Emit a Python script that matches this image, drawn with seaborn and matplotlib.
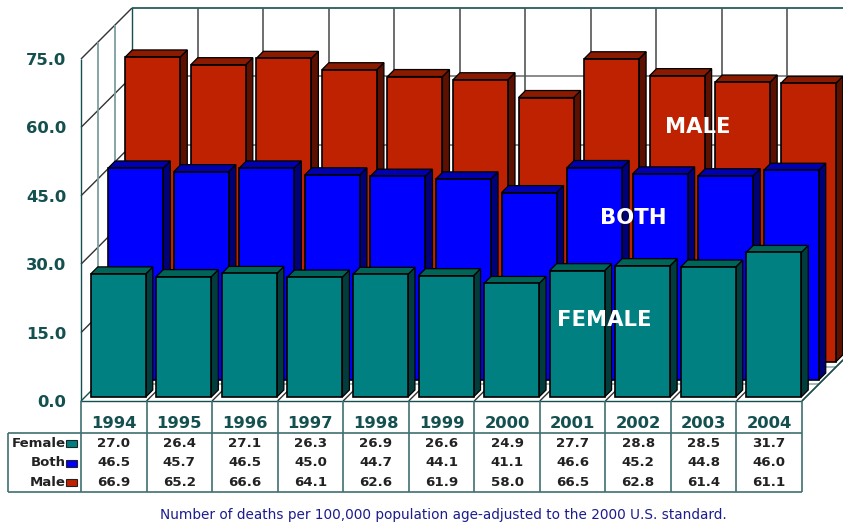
import matplotlib
matplotlib.use("Agg")
import matplotlib.pyplot as plt
import seaborn as sns
from matplotlib.patches import Polygon, Rectangle

years = ["1994", "1995", "1996", "1997", "1998", "1999", "2000", "2001", "2002", "2003", "2004"]
female = [27.0, 26.4, 27.1, 26.3, 26.9, 26.6, 24.9, 27.7, 28.8, 28.5, 31.7]
both = [46.5, 45.7, 46.5, 45.0, 44.7, 44.1, 41.1, 46.6, 45.2, 44.8, 46.0]
male = [66.9, 65.2, 66.6, 64.1, 62.6, 61.9, 58.0, 66.5, 62.8, 61.4, 61.1]
y_ticks = [0, 15, 30, 45, 60, 75]
note = "Number of deaths per 100,000 population age-adjusted to the 2000 U.S. standard."

# plot area in pixels
W, H = 843, 525
LEFT, RIGHT, BASE, TOP = 81, 802, 401, 59
STEP = (RIGHT - LEFT) / len(years)
DEPTH = 51
TEAL = "#14504f"

sns.set_style("white")
plt.rcParams["font.family"] = ["DejaVu Sans"]

fig = plt.figure(figsize=(W / 100, H / 100), dpi=100)

# background axes in pixel coordinates, for the walls and the table
bg = fig.add_axes([0, 0, 1, 1], zorder=0)
bg.set_xlim(0, W)
bg.set_ylim(H, 0)
bg.axis("off")

ax = fig.add_axes([LEFT / W, 1 - BASE / H, (RIGHT - LEFT) / W, (BASE - TOP) / H], zorder=1)
ax.patch.set_alpha(0)


def line(xs, ys, color=TEAL, lw=1.0):
    bg.plot(xs, ys, color=color, lw=lw, solid_capstyle="butt", clip_on=True)


# back wall and left wall
px_per_unit = (BASE - TOP) / 75
for t in y_ticks:
    yy = BASE - t * px_per_unit
    line([LEFT, LEFT + DEPTH], [yy, yy - DEPTH], "#333333" if t else TEAL)
    line([LEFT + DEPTH, W], [yy - DEPTH, yy - DEPTH], "#777777" if 0 < t < 75 else TEAL, 1.2)
for d in (17, 34):
    line([LEFT + d, LEFT + d], [TOP - d, BASE - d], "#7c9f9f", 1.3)
    line([LEFT + d, RIGHT + d], [BASE - d, BASE - d], "#9db5b5", 1.3)
line([LEFT, LEFT], [TOP, BASE])
line([LEFT + DEPTH, LEFT + DEPTH], [TOP - DEPTH, BASE - DEPTH])
for i in range(1, len(years) + 1):
    xx = LEFT + i * STEP
    line([xx + DEPTH, xx + DEPTH], [TOP - DEPTH, BASE - DEPTH], "#555555", 1.2)
    line([xx, xx + DEPTH], [BASE, BASE - DEPTH], "#333333")
line([LEFT, RIGHT], [BASE, BASE])
line([RIGHT, W], [BASE, BASE - (W - RIGHT)])

# bars: offsets are the pixel shift of each row into the depth of the chart
series = [
    (male, "#bf2200", "#8a1a00", "#5c1000", 39, 39, 10),
    (both, "#0000ff", "#0000b0", "#000078", 22, 21, 20),
    (female, "#008080", "#006558", "#033c3c", 4.5, 4, 30),
]
bar_w = 55
side = 7
for values, front, top_c, side_c, dx, dy, z in series:
    sns.barplot(x=years, y=values, color=front, saturation=1, width=bar_w / STEP,
                edgecolor="black", linewidth=1.2, ax=ax)
    for bar in ax.containers[-1]:
        bar.set_x(bar.get_x() + dx / STEP)
        bar.set_y(dy / px_per_unit)
        bar.set_zorder(z + 1)
        bar.set_clip_on(False)
        x0 = bar.get_x()
        x1 = x0 + bar.get_width()
        y0 = bar.get_y()
        y1 = y0 + bar.get_height()
        sx = side / STEP
        sy = side / px_per_unit
        ax.add_patch(Polygon([(x1, y0), (x1 + sx, y0 + sy), (x1 + sx, y1 + sy), (x1, y1)],
                             facecolor=side_c, edgecolor="black", lw=0.9, zorder=z, clip_on=False))
        ax.add_patch(Polygon([(x0, y1), (x0 + sx, y1 + sy), (x1 + sx, y1 + sy), (x1, y1)],
                             facecolor=top_c, edgecolor="black", lw=0.9, zorder=z, clip_on=False))

ax.set_xlim(-0.5, len(years) - 0.5)
ax.set_ylim(0, 75)
ax.set_yticks(y_ticks)
ax.set_yticklabels([f"{t:.1f}" for t in y_ticks], fontsize=11.8, fontweight="bold", color=TEAL)
ax.set_xticks(range(len(years)))
ax.set_xticklabels(years, fontsize=11.8, fontweight="bold", color=TEAL)
ax.tick_params(axis="y", length=0, pad=10.5)
ax.tick_params(axis="x", length=0, pad=10.8)
sns.despine(ax=ax, left=True, bottom=True)
ax.grid(False)

# labels on the bars
label_font = dict(color="white", fontweight="bold", fontsize=15.2, ha="center", va="center", zorder=50)
bg_to_ax = dict(transform=bg.transData, clip_on=False)
ax.text(698, 127, "MALE", **label_font, **bg_to_ax)
ax.text(633, 218, "BOTH", **label_font, **bg_to_ax)
ax.text(604, 320, "FEMALE", **label_font, **bg_to_ax)

# data table under the chart
table_top, table_bot = 433, 492
line([8, RIGHT], [table_top, table_top], "#3f6f6f", 1.2)
line([8, RIGHT], [table_bot, table_bot], "#3f6f6f", 1.2)
line([8, 8], [table_top, table_bot], "#3f6f6f", 1.2)
for i in range(len(years) + 1):
    xx = LEFT + i * STEP
    line([xx, xx], [BASE, table_bot], "#3f6f6f", 1.2)

rows = [("Female", female, "#008080", 443.5), ("Both", both, "#0000ff", 463), ("Male", male, "#bf2200", 482.5)]
for name, values, color, yy in rows:
    bg.text(66, yy, name, ha="right", va="center", fontsize=9.5, fontweight="bold", color="#222222")
    bg.add_patch(Rectangle((66, yy - 3.5), 11, 7, facecolor=color, edgecolor="#222222", lw=0.8))
    for i, v in enumerate(values):
        bg.text(LEFT + (i + 0.5) * STEP, yy, f"{v:.1f}", ha="center", va="center",
                fontsize=9.6, fontweight="bold", color="#222222")

bg.text(443.5, 515, note, ha="center", va="center", fontsize=9.8, color="#1c1c8c")

fig.savefig("out.png", dpi=100)
